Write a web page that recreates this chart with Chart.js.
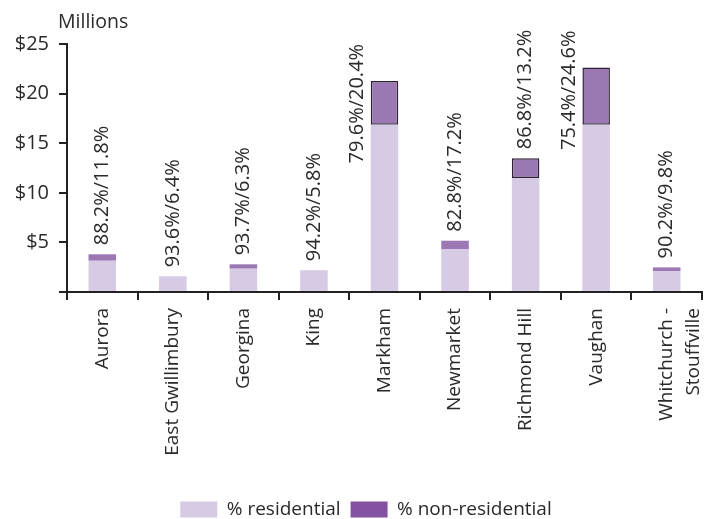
<!DOCTYPE html>
<html>
<head>
<meta charset="utf-8">
<script src="https://cdn.jsdelivr.net/npm/chart.js@4/dist/chart.umd.min.js"></script>
<style>
  html, body { margin: 0; padding: 0; background: #fff; }
  #wrap { width: 704px; height: 519px; position: relative; }
</style>
</head>
<body>
<div id="wrap"><canvas id="c" width="704" height="519"></canvas></div>
<script>
const categories = ['Aurora', 'East Gwillimbury', 'Georgina', 'King', 'Markham', 'Newmarket', 'Richmond Hill', 'Vaughan', ['Whitchurch -', 'Stouffville']];
const residential = [3.15, 1.58, 2.35, 2.2, 16.85, 4.3, 11.48, 16.85, 2.08];
const nonResidential = [0.65, 0, 0.44, 0, 4.43, 0.87, 2.0, 5.78, 0.4];
const shareLabels = ['88.2%/11.8%', '93.6%/6.4%', '93.7%/6.3%', '94.2%/5.8%', '79.6%/20.4%', '82.8%/17.2%', '86.8%/13.2%', '75.4%/24.6%', '90.2%/9.8%'];
const yTicks = [0, 5, 10, 15, 20, 25];
const unitLabel = 'Millions';

const FONT = '"Open Sans", "Noto Sans", sans-serif';
const TEXT = '#2a2a2a';
const LIGHT = '#d6cae4';
const DARK = '#9b77b3';
const DARK_LEGEND = '#8452a1';

const outlined = nonResidential.map(v => v > 1.5);

const labelPlugin = {
  id: 'shareLabels',
  afterLayout(chart) {
    if (chart.legend) { chart.legend.left += 30; }
  },
  afterDatasetsDraw(chart) {
    const ctx = chart.ctx;
    const metaTop = chart.getDatasetMeta(1);
    const metaBase = chart.getDatasetMeta(0);
    ctx.save();
    ctx.font = '20px ' + FONT;
    ctx.fillStyle = TEXT;
    ctx.textBaseline = 'middle';
    shareLabels.forEach((txt, i) => {
      const el = nonResidential[i] > 0 ? metaTop.data[i] : metaBase.data[i];
      const x = el.x;
      const top = el.y;
      ctx.save();
      if (top < 110) {
        ctx.translate(x - 27, top - 37);
        ctx.rotate(-Math.PI / 2);
        ctx.textAlign = 'right';
      } else {
        ctx.translate(x, top - 9);
        ctx.rotate(-Math.PI / 2);
        ctx.textAlign = 'left';
      }
      ctx.fillText(txt, 0, 0);
      ctx.restore();
    });
    ctx.font = '19.5px ' + FONT;
    ctx.textAlign = 'left';
    ctx.textBaseline = 'middle';
    ctx.fillText(unitLabel, chart.chartArea.left - 9, 22);
    ctx.restore();
  }
};

new Chart(document.getElementById('c'), {
  type: 'bar',
  data: {
    labels: categories,
    datasets: [
      {
        label: '% residential',
        data: residential,
        backgroundColor: LIGHT,
        borderWidth: 0,
        barPercentage: 0.39,
        categoryPercentage: 1
      },
      {
        label: '% non-residential',
        data: nonResidential,
        backgroundColor: DARK,
        borderColor: '#2e2134',
        borderWidth: outlined.map(o => o ? 1.5 : 0),
        borderSkipped: false,
        barPercentage: 0.39,
        categoryPercentage: 1
      }
    ]
  },
  options: {
    responsive: false,
    animation: false,
    layout: { padding: { top: 44, right: 2, left: 0, bottom: -10 } },
    plugins: {
      legend: {
        position: 'bottom',
        labels: {
          boxWidth: 37,
          boxHeight: 16,
          padding: 10,
          color: TEXT,
          font: { family: FONT, size: 19 },
          generateLabels(chart) {
            return chart.data.datasets.map((ds, i) => ({
              text: ds.label,
              fillStyle: i === 0 ? LIGHT : DARK_LEGEND,
              strokeStyle: i === 0 ? LIGHT : DARK_LEGEND,
              lineWidth: 0,
              datasetIndex: i,
              fontColor: TEXT
            }));
          }
        }
      },
      tooltip: { enabled: false },
      title: { display: false }
    },
    scales: {
      x: {
        stacked: true,
        afterFit(scale) {
          scale.height = 198;
          scale.paddingLeft = 0;
          scale.paddingRight = 0;
        },
        ticks: {
          minRotation: 90, maxRotation: 90, autoSkip: false,
          color: TEXT, font: { family: FONT, size: 19, lineHeight: 1.4 }, padding: 8
        },
        grid: { drawOnChartArea: false, offset: true, tickLength: 8, color: '#222', lineWidth: 2 },
        border: { color: '#222', width: 2 }
      },
      y: {
        stacked: true,
        min: yTicks[0],
        max: yTicks[yTicks.length - 1],
        afterBuildTicks(scale) { scale.ticks = yTicks.map(v => ({ value: v })); },
        afterFit(scale) { scale.width = 67; },
        ticks: {
          color: TEXT, font: { family: FONT, size: 20 }, padding: 10,
          callback: v => v === 0 ? '' : '$' + v
        },
        grid: { drawOnChartArea: false, tickLength: 8, color: '#222', lineWidth: 2 },
        border: { color: '#222', width: 2 }
      }
    }
  },
  plugins: [labelPlugin]
});
</script>
</body>
</html>
